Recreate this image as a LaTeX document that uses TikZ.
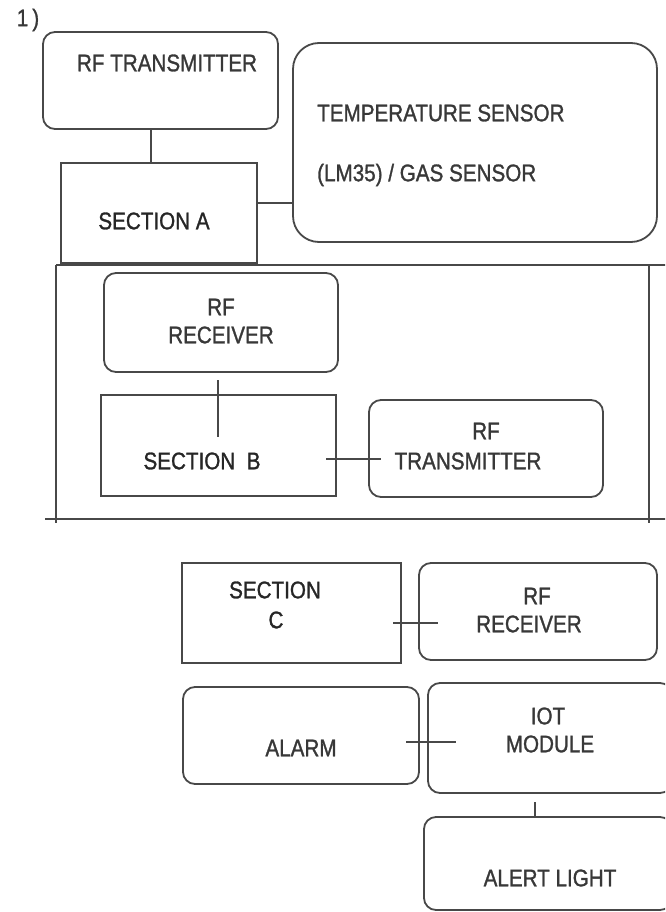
\documentclass[tikz,border=0pt]{standalone}
\usepackage{fontspec}
\setmainfont{Liberation Sans}[FakeStretch=0.86,FakeBold=1.2]
\definecolor{ln}{HTML}{484848}
\definecolor{tx}{HTML}{383838}
\tikzset{
  rbox/.style={draw=ln, line width=1.8pt, rounded corners=12pt},
  sbox/.style={draw=ln, line width=1.8pt},
  conn/.style={draw=ln, line width=1.6pt},
  lbl/.style={text=tx, inner sep=0pt, font=\fontsize{24}{28}\selectfont},
  lblb/.style={lbl, text=black!85}
}
\begin{document}
\begin{tikzpicture}[x=1pt,y=-1pt]
\useasboundingbox (0,0) rectangle (665,912);
\begin{scope}
\clip (0,0) rectangle (665,912);
% Section A group
\draw[rbox] (43,32) rectangle (278,129);
\coordinate (rftxS) at (151,129);
\draw[rbox, rounded corners=26pt] (293,43) rectangle (657,242);
\coordinate (tempW) at (293,203);
\draw[sbox] (61,163) rectangle (257,263);
\coordinate (secAN) at (151,163);
\coordinate (secAE) at (257,203);
\draw[conn] (rftxS) -- (secAN);
\draw[conn] (secAE) -- (tempW);
\node[lbl] (one) at (28,20) {1\,)};
\node[lbl] (t1) at (167,63) {RF TRANSMITTER};
\node[lbl, anchor=west] (t2) at (317,113) {TEMPERATURE SENSOR};
\node[lbl, anchor=west] (t3) at (317,175) {(LM35) / GAS SENSOR};
\node[lblb] (t4) at (154,221) {SECTION A};
% frame
\coordinate (fTL) at (56,265);
\coordinate (fTR) at (668,265);
\coordinate (fLB) at (56,523);
\coordinate (fBL) at (45,519);
\coordinate (fBR) at (668,519);
\coordinate (fRT) at (649,265);
\coordinate (fRB) at (649,523);
\draw[conn] (fTL) -- (fTR);
\draw[conn] (fTL) -- (fLB);
\draw[conn] (fBL) -- (fBR);
\draw[conn] (fRT) -- (fRB);
% Section B group
\draw[rbox] (104,273) rectangle (338,372);
\draw[sbox] (101,395) rectangle (336,496);
\draw[rbox] (369,400) rectangle (603,497);
\coordinate (bv1) at (218,380);
\coordinate (bv2) at (218,437);
\coordinate (bh1) at (326,459);
\coordinate (bh2) at (381,459);
\draw[conn] (bv1) -- (bv2);
\draw[conn] (bh1) -- (bh2);
\node[lbl] (t5) at (221,307) {RF};
\node[lbl] (t6) at (221,335) {RECEIVER};
\node[lblb] (t7) at (202,461) {SECTION\ \ B};
\node[lbl] (t8) at (486,431) {RF};
\node[lbl] (t9) at (468,461) {TRANSMITTER};
% Section C group
\draw[sbox] (182,563) rectangle (401,663);
\draw[rbox] (419,563) rectangle (657,660);
\coordinate (ch1) at (393,623);
\coordinate (ch2) at (438,623);
\draw[conn] (ch1) -- (ch2);
\draw[rbox] (183,687) rectangle (419,784);
\draw[rbox] (428,683) rectangle (672,793);
\coordinate (ah1) at (406,742);
\coordinate (ah2) at (456,742);
\draw[conn] (ah1) -- (ah2);
\draw[rbox] (424,817) rectangle (672,910);
\coordinate (iv1) at (535,802);
\coordinate (iv2) at (535,817);
\draw[conn] (iv1) -- (iv2);
\node[lblb] (t10) at (275,590) {SECTION};
\node[lblb] (t11) at (276,620) {C};
\node[lbl] (t12) at (537,596) {RF};
\node[lbl] (t13) at (529,624) {RECEIVER};
\node[lbl] (t14) at (301,748) {ALARM};
\node[lbl] (t15) at (548,716) {IOT};
\node[lbl] (t16) at (550,744) {MODULE};
\node[lbl] (t17) at (550,878) {ALERT LIGHT};
\end{scope}
\end{tikzpicture}
\end{document}
